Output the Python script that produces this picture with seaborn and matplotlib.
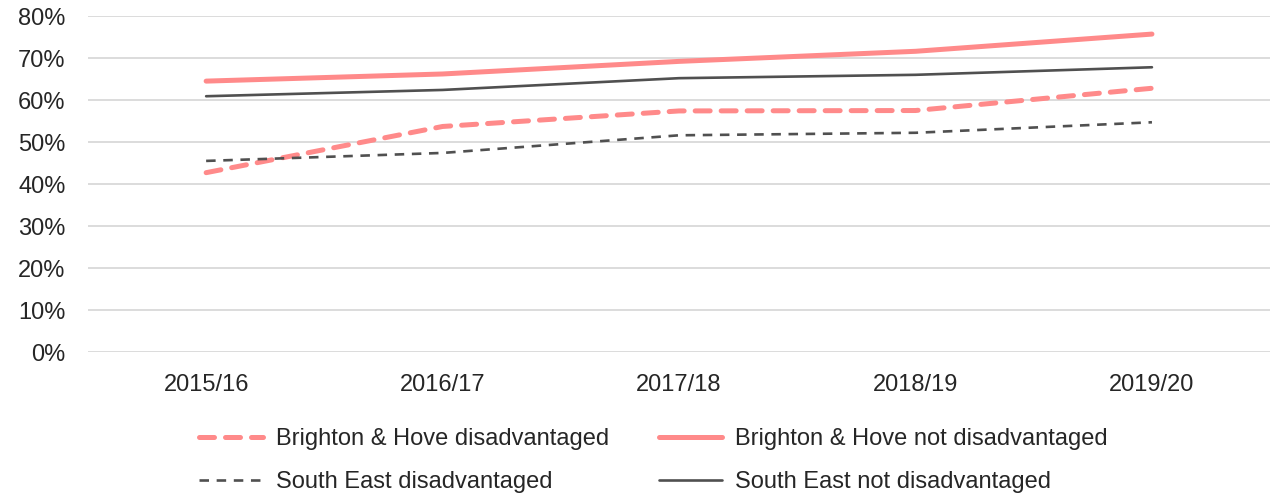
import matplotlib
matplotlib.use('Agg')
import matplotlib.pyplot as plt
import matplotlib.ticker as mticker
import seaborn as sns
import pandas as pd
import numpy as np

# ── Data ───────────────────────────────────────────────────────────
years = ['2015/16', '2016/17', '2017/18', '2018/19', '2019/20']
bh_disadv = [42.7, 53.7, 57.4, 57.5, 62.8]
bh_not_disadv = [64.5, 66.2, 69.2, 71.6, 75.7]
se_disadv = [45.5, 47.4, 51.6, 52.2, 54.7]
se_not_disadv = [60.9, 62.4, 65.2, 66.0, 67.8]

PINK = '#FF8A8A'
GREY = '#505050'

# ── Style ──────────────────────────────────────────────────────────
sns.set_style('white')
plt.rcParams['font.family'] = ['Liberation Sans', 'DejaVu Sans']

fig = plt.figure(figsize=(12.74, 4.93), dpi=100)
ax = fig.add_axes([0.069, 0.286, 0.928, 0.6815])

x = np.arange(len(years))
series = [
    ('Brighton & Hove disadvantaged', bh_disadv, PINK, 3.6, (0, (3, 2.2)), 'round'),
    ('South East disadvantaged', se_disadv, GREY, 1.9, (0, (3.6, 2.9)), 'butt'),
    ('Brighton & Hove not disadvantaged', bh_not_disadv, PINK, 3.6, '-', 'round'),
    ('South East not disadvantaged', se_not_disadv, GREY, 1.9, '-', 'round'),
]
for name, vals, col, lw, ls, cap in series:
    df = pd.DataFrame({'x': x, 'y': vals})
    sns.lineplot(data=df, x='x', y='y', ax=ax, color=col, linewidth=lw,
                 linestyle=ls, label=name, legend=False,
                 solid_capstyle='round', dash_capstyle=cap)

ax.set_xlim(-0.5, len(years) - 0.5)
ax.set_ylim(0, 80)
ax.set_yticks(np.arange(0, 81, 10))
ax.yaxis.set_major_formatter(mticker.FuncFormatter(lambda v, _: f'{v:.0f}%'))
ax.set_xticks(x)
ax.set_xticklabels(years)
ax.set_xlabel('')
ax.set_ylabel('')
ax.tick_params(axis='both', labelsize=17, colors='#262626', length=0)
ax.tick_params(axis='x', pad=16)
ax.tick_params(axis='y', pad=16)
ax.grid(True, axis='y', color='#D9D9D9', linewidth=1.3)
ax.grid(False, axis='x')
for s in ax.spines.values():
    s.set_visible(False)

handles, labels = ax.get_legend_handles_labels()
fig.legend(handles, labels, ncol=2, loc='upper center',
           bbox_to_anchor=(0.513, 0.175), frameon=False, fontsize=17,
           handlelength=2.7, columnspacing=2.1, labelspacing=0.9,
           handletextpad=0.55, labelcolor='#262626')

plt.savefig('out.png', dpi=100)
